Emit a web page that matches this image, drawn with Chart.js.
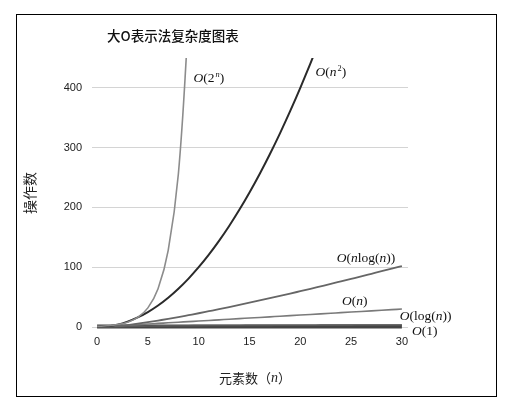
<!DOCTYPE html>
<html>
<head>
<meta charset="utf-8">
<script src="https://cdn.jsdelivr.net/npm/chart.js@4/dist/chart.umd.min.js"></script>
<style>
  html, body { margin: 0; padding: 0; background: #fff; }
  #wrap { position: relative; width: 517px; height: 414px; }
  #frame { position: absolute; left: 16px; top: 14px; width: 481px; height: 383px; border: 1px solid #000; box-sizing: border-box; pointer-events: none; }
</style>
</head>
<body>
<div id="wrap">
  <canvas id="chart" width="517" height="414"></canvas>
  <div id="frame"></div>
</div>
<script>
const nValues = [0,1,2,3,4,5,6,7,8,9,10,11,12,13,14,15,16,17,18,19,20,21,22,23,24,25,26,27,28,29,30];
const exponential = [1,2,4,8,16,32,64,128,256,512];
const quadratic = [0,1,4,9,16,25,36,49,64,81,100,121,144,169,196,225,256,289,324,361,400,441,484];
const nLogN = [0,0,1.4,3.3,5.5,8,10.8,13.6,16.6,19.8,23,26.4,29.8,33.3,36.9,40.6,44.4,48.2,52,55.9,59.9,63.9,68,72.1,76.3,80.5,84.7,89,93.3,97.7,102];
const linear = [0,1,2,3,4,5,6,7,8,9,10,11,12,13,14,15,16,17,18,19,20,21,22,23,24,25,26,27,28,29,30];
const logN = [0,0,0.7,1.1,1.4,1.6,1.8,1.9,2.1,2.2,2.3,2.4,2.5,2.6,2.6,2.7,2.8,2.8,2.9,2.9,3,3,3.1,3.1,3.2,3.2,3.3,3.3,3.3,3.4,3.4];
const constant = [1,1,1,1,1,1,1,1,1,1,1,1,1,1,1,1,1,1,1,1,1,1,1,1,1,1,1,1,1,1,1];
const xTicks = [0,5,10,15,20,25,30];
const yTicks = [0,100,200,300,400];

// curve labels: parts of rich text, i = italic, n = normal, sup / supi = superscript
const curveLabels = [
  [['O','i'],['(2','n'],['n','supi'],[')','n']],
  [['O','i'],['(','n'],['n','i'],['2','sup'],[')','n']],
  [['O','i'],['(','n'],['n','i'],['log(','n'],['n','i'],['))','n']],
  [['O','i'],['(','n'],['n','i'],[')','n']],
  [['O','i'],['(log(','n'],['n','i'],['))','n']],
  [['O','i'],['(1)','n']]
];
const labelAt = [[9.5,416],[21.5,426],[23.6,114],[24.1,42],[29.8,17],[31.0,-7]];

const pts = ys => ys.map((y, i) => ({x: nValues[i], y: y}));

const serif = '"Liberation Serif", "DejaVu Serif", serif';
const cjk = '"Noto Sans CJK SC", sans-serif';

function richText(ctx, parts, x, y, size) {
  let cx = x;
  for (const [t, s] of parts) {
    const sup = s === 'sup' || s === 'supi';
    const it = s === 'i' || s === 'supi';
    const fs = sup ? size * 0.62 : size;
    ctx.font = (it ? 'italic ' : '') + fs + 'px ' + serif;
    ctx.fillText(t, cx + (sup ? 1 : 0), sup ? y - size * 0.28 : y);
    cx += ctx.measureText(t).width + (sup ? 1 : 0);
  }
}

const textPlugin = {
  id: 'texts',
  afterDraw(chart) {
    const ctx = chart.ctx;
    const xs = chart.scales.x, ys = chart.scales.y;
    ctx.save();
    ctx.fillStyle = '#111';
    ctx.textBaseline = 'middle';
    ctx.textAlign = 'left';
    curveLabels.forEach((parts, i) => {
      richText(ctx, parts, xs.getPixelForValue(labelAt[i][0]), ys.getPixelForValue(labelAt[i][1]), 13.5);
    });
    // title
    ctx.font = '500 13.5px ' + cjk;
    ctx.fillStyle = '#111';
    ctx.fillText('大O表示法复杂度图表', 107, 36);
    // x axis title
    ctx.font = '13px ' + cjk;
    ctx.fillStyle = '#222';
    let x0 = 219;
    ctx.fillText('元素数（', x0, 378);
    x0 += ctx.measureText('元素数（').width;
    ctx.font = 'italic 14px ' + serif;
    ctx.fillText('n', x0, 378);
    x0 += ctx.measureText('n').width;
    ctx.font = '13px ' + cjk;
    ctx.fillText('）', x0, 378);
    // y axis title
    ctx.translate(30, 193);
    ctx.rotate(-Math.PI / 2);
    ctx.textAlign = 'center';
    ctx.font = '14px ' + cjk;
    ctx.fillText('操作数', 0, 0);
    ctx.restore();
  }
};

const line = (data, color, width, extra) => Object.assign({
  data: pts(data),
  borderColor: color,
  borderWidth: width,
  pointRadius: 0,
  fill: false,
  cubicInterpolationMode: 'monotone'
}, extra || {});

new Chart(document.getElementById('chart').getContext('2d'), {
  type: 'line',
  data: {
    datasets: [
      line(exponential, '#8c8c8c', 1.6, {cubicInterpolationMode: 'default', tension: 0.4}),
      line(quadratic, '#2a2a2a', 2),
      line(nLogN, '#666666', 1.8),
      line(linear, '#7a7a7a', 1.6),
      line(logN, '#5a5a5a', 1.6, {clip: false}),
      line(constant, '#444444', 4, {clip: false})
    ]
  },
  options: {
    responsive: false,
    animation: false,
    layout: { padding: { left: 0, top: 58, right: 109, bottom: 67 } },
    plugins: { legend: { display: false }, tooltip: { enabled: false }, title: { display: false } },
    scales: {
      x: {
        type: 'linear',
        min: -0.5,
        max: 30.6,
        afterBuildTicks: axis => { axis.ticks = xTicks.map(v => ({value: v})); },
        afterFit: axis => { axis.height = 20; },
        grid: { display: false, drawTicks: false },
        border: { display: false },
        ticks: { padding: 8, maxRotation: 0, color: '#222', font: { family: '"Liberation Sans", Arial, sans-serif', size: 11 } }
      },
      y: {
        min: 0,
        max: 450,
        afterBuildTicks: axis => { axis.ticks = yTicks.map(v => ({value: v})); },
        afterFit: axis => { axis.width = 92; },
        grid: { color: '#d4d4d4', lineWidth: 1, drawTicks: false },
        border: { display: false },
        ticks: { padding: 10, color: '#222', font: { family: '"Liberation Sans", Arial, sans-serif', size: 11 } }
      }
    }
  },
  plugins: [textPlugin]
});
</script>
</body>
</html>
